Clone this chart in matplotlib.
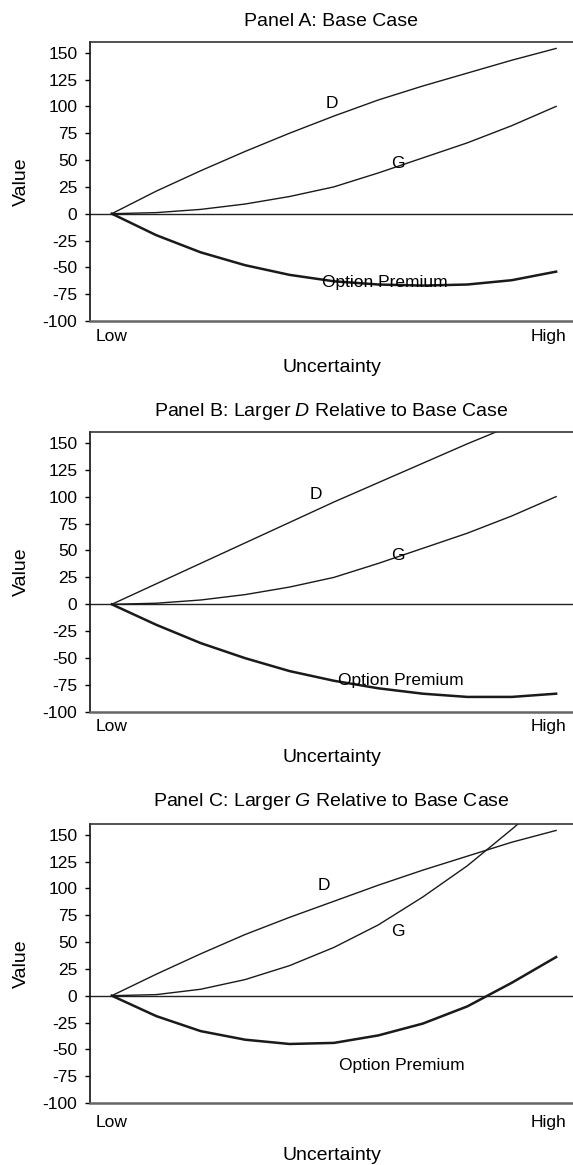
import matplotlib
matplotlib.use("Agg")
import matplotlib.pyplot as plt

plt.rcParams['font.family'] = ['Liberation Sans', 'DejaVu Sans']
plt.rcParams['mathtext.fontset'] = 'custom'
plt.rcParams['mathtext.rm'] = 'Liberation Sans'
plt.rcParams['mathtext.it'] = 'Liberation Sans:italic'

# ---- data ----
uncertainty = [0, 1, 2, 3, 4, 5, 6, 7, 8, 9, 10]
x_tick_pos = [0, 9.82]
x_tick_labels = ["Low", "High"]
y_ticks = [-100, -75, -50, -25, 0, 25, 50, 75, 100, 125, 150]

titles = ["Panel A: Base Case",
          r"Panel B: Larger $\mathit{D}$ Relative to Base Case",
          r"Panel C: Larger $\mathit{G}$ Relative to Base Case"]

D_a = [0, 21, 40, 58, 75, 91, 106, 119, 131, 143, 154]
G_a = [0, 1, 4, 9, 16, 25, 38, 52, 66, 82, 100]
OP_a = [0, -20, -36, -48, -57, -63, -66, -67, -66, -62, -54]

D_b = [0, 19, 38, 57, 76, 95, 113, 131, 149, 166, 183]
G_b = [0, 1, 4, 9, 16, 25, 38, 52, 66, 82, 100]
OP_b = [0, -19, -36, -50, -62, -71, -78, -83, -86, -86, -83]

D_c = [0, 20, 39, 57, 73, 88, 103, 117, 130, 143, 154]
G_c = [0, 1, 6, 15, 28, 45, 66, 92, 121, 155, 190]
OP_c = [0, -19, -33, -41, -45, -44, -37, -26, -10, 12, 36]

D_series = [D_a, D_b, D_c]
G_series = [G_a, G_b, G_c]
OP_series = [OP_a, OP_b, OP_c]

# label positions (data coords)
D_lab = [(4.95, 103), (4.6, 102), (4.78, 103)]
G_lab = [(6.43, 47), (6.45, 45), (6.45, 60)]
OP_lab = [(6.15, -64), (6.5, -71), (6.53, -65)]

# ---- layout (pixels) ----
W, H = 573, 1165
fig = plt.figure(figsize=(W / 100, H / 100), dpi=100)

ax_left = 90
axes_px = [(42, 321), (432, 712), (824, 1103)]   # top, bottom
title_y = [21, 412, 802]
xlabel_y = [367, 758, 1155]
ylabel_y = [(42 + 321) / 2, (432 + 712) / 2, (824 + 1103) / 2]
low_pad = [5.5, 5, 8.5]
cx = (ax_left + W) / 2 / W

line_col = '#1a1a1a'
fs_small = 12.5
fs_big = 14

for i in range(3):
    top, bot = axes_px[i]
    ax = fig.add_axes([ax_left / W, 1 - bot / H, 1 - ax_left / W, (bot - top) / H])
    ax.plot(uncertainty, D_series[i], color=line_col, lw=1.0)
    ax.plot(uncertainty, G_series[i], color=line_col, lw=1.0)
    ax.plot(uncertainty, OP_series[i], color=line_col, lw=1.8)
    ax.axhline(0, color='#222222', lw=1.0, zorder=0)

    ax.set_xlim(-0.49, 10.38)
    ax.set_ylim(-100, 160)
    ax.set_yticks(y_ticks)
    ax.set_yticklabels([str(v) for v in y_ticks], fontsize=fs_small)
    ax.set_xticks(x_tick_pos)
    ax.set_xticklabels(x_tick_labels, fontsize=fs_small)
    ax.tick_params(axis='x', length=0, pad=low_pad[i])
    ax.tick_params(axis='y', length=3.6, width=1, direction='out', pad=5.5)

    ax.spines['right'].set_visible(False)
    ax.spines['left'].set_color('#111111')
    ax.spines['left'].set_linewidth(1.2)
    ax.spines['top'].set_color('#333333')
    ax.spines['top'].set_linewidth(1.2)
    ax.spines['bottom'].set_color('#666666')
    ax.spines['bottom'].set_linewidth(1.8)

    ax.text(*D_lab[i], "D", fontsize=fs_small, ha='center', va='center')
    ax.text(*G_lab[i], "G", fontsize=fs_small, ha='center', va='center')
    ax.text(*OP_lab[i], "Option Premium", fontsize=fs_small, ha='center', va='center')

    fig.text(cx, 1 - title_y[i] / H, titles[i], fontsize=fs_big, ha='center', va='center')
    fig.text(cx, 1 - xlabel_y[i] / H, "Uncertainty", fontsize=fs_big, ha='center', va='center')
    fig.text(21 / W, 1 - ylabel_y[i] / H, "Value", fontsize=fs_big, ha='center', va='center',
             rotation=90)

fig.savefig("out.png", dpi=100)
